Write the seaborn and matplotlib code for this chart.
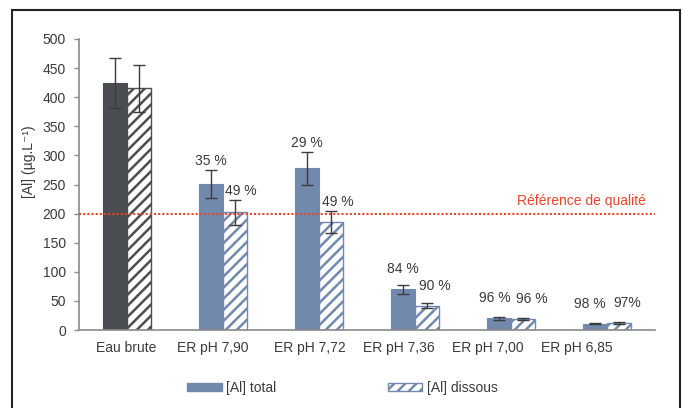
import matplotlib
matplotlib.use("Agg")
import matplotlib.pyplot as plt
import matplotlib.transforms as mtransforms
from matplotlib.patches import Patch, Rectangle
import seaborn as sns
import pandas as pd

categories = ["Eau brute", "ER pH 7,90", "ER pH 7,72", "ER pH 7,36", "ER pH 7,00", "ER pH 6,85"]
series = ["[Al] total", "[Al] dissous"]
total = [424, 251, 278, 70, 20, 11]
dissous = [415, 202, 186, 42, 19.5, 12.5]
err_total = [43, 24, 28, 8, 2, 1.5]
err_dissous = [41, 21, 19, 4, 1.5, 1.5]
pct_total = ["", "35 %", "29 %", "84 %", "96 %", "98 %"]
pct_dissous = ["", "49 %", "49 %", "90 %", "96 %", "97%"]
reference_value = 200
reference_label = "Référence de qualité"
y_ticks = list(range(0, 501, 50))

# style
BLUE = "#7289ae"
DARK = "#4a4d51"
RED = "#e8452c"
TXT = "#3a3a3a"
GRID = "#8a8a8a"
FS = 10
label_pad_px = [[0, 9, 9, 16, 19, 19], [0, 9, 9, 17, 19, 19]]
label_dx_px = [[0, 0, 0, 0, -4, -5], [0, 6, 7, 8, 9, 8]]
xlabel_shift_px = [-1, -10, -9, -16, -23, -30]

sns.set_theme(style="white")
plt.rcParams["font.family"] = ["Liberation Sans", "DejaVu Sans"]
plt.rcParams["hatch.linewidth"] = 1.8

df = pd.DataFrame({
    "cat": categories * 2,
    "serie": [series[0]] * len(categories) + [series[1]] * len(categories),
    "value": total + dissous,
})

fig = plt.figure(figsize=(6.85, 4.08), dpi=100)
ax = fig.add_axes([79 / 685, 1 - 330 / 408, 576 / 685, 291 / 408])

sns.barplot(data=df, x="cat", y="value", hue="serie", order=categories,
            hue_order=series, palette=[BLUE, "white"], width=0.49, gap=0,
            errorbar=None, legend=False, ax=ax, zorder=2)

cont_total, cont_diss = ax.containers[0], ax.containers[1]
for i, bar in enumerate(cont_total):
    bar.set_facecolor(DARK if i == 0 else BLUE)
    bar.set_edgecolor(DARK if i == 0 else BLUE)
    bar.set_linewidth(0.8)
for i, bar in enumerate(cont_diss):
    col = DARK if i == 0 else BLUE
    bar.set_facecolor("white")
    bar.set_edgecolor(col)
    bar.set_hatch("///")
    bar.set_linewidth(1.0)

for cont, vals, errs, pcts, pads, dxs in [
    (cont_total, total, err_total, pct_total, label_pad_px[0], label_dx_px[0]),
    (cont_diss, dissous, err_dissous, pct_dissous, label_pad_px[1], label_dx_px[1]),
]:
    xs = [b.get_x() + b.get_width() / 2 for b in cont]
    ax.errorbar(xs, vals, yerr=errs, fmt="none", ecolor="#3c3c3c",
                elinewidth=1.0, capsize=4.5, capthick=1.0, zorder=3)
    for x, v, e, p, pad, dx in zip(xs, vals, errs, pcts, pads, dxs):
        if p:
            ax.annotate(p, (x, v + e), xytext=(dx * 0.72, pad * 0.72),
                        textcoords="offset points", ha="center", va="center",
                        fontsize=FS, color=TXT)

ax.axhline(reference_value, color=RED, linestyle=(0, (1, 1)), linewidth=1.5, zorder=4)
ax.text(5.4, reference_value + 21, reference_label, color=RED, fontsize=FS,
        ha="right", va="center")

ax.set_xlim(-0.5, len(categories) - 0.5)
ax.set_ylim(0, 500)
ax.set_yticks(y_ticks)
ax.set_xlabel("")
ax.set_ylabel("[Al] (µg.L⁻¹)", fontsize=FS, color=TXT)
ax.yaxis.set_label_coords(-0.075, 0.577)

for s in ["top", "right"]:
    ax.spines[s].set_visible(False)
for s in ["left", "bottom"]:
    ax.spines[s].set_color(GRID)
    ax.spines[s].set_linewidth(1.2)

ax.tick_params(axis="y", direction="out", length=3.5, width=1, color=GRID,
               labelsize=FS, labelcolor=TXT, pad=6, left=True)
ax.tick_params(axis="x", length=0, labelsize=FS, labelcolor=TXT, pad=8)

for lab, dx in zip(ax.get_xticklabels(), xlabel_shift_px):
    lab.set_transform(lab.get_transform() +
                      mtransforms.ScaledTranslation(dx / 100, 0, fig.dpi_scale_trans))

handles = [
    Patch(facecolor=BLUE, edgecolor=BLUE, label=series[0]),
    Patch(facecolor="white", edgecolor=BLUE, hatch="///", label=series[1]),
]
fig.legend(handles=handles, loc="center", bbox_to_anchor=(0.5, 1 - 388 / 408),
           ncol=2, frameon=False, fontsize=FS, handlelength=2.45,
           handleheight=0.43, handletextpad=0.35, columnspacing=8.0,
           labelcolor=TXT)

fig.patches.append(Rectangle((12 / 685, -0.05), 668 / 685, 1.05 - 10 / 408,
                             transform=fig.transFigure, fill=False,
                             edgecolor="#222222", linewidth=1.5))

fig.savefig("out.png", dpi=100)
